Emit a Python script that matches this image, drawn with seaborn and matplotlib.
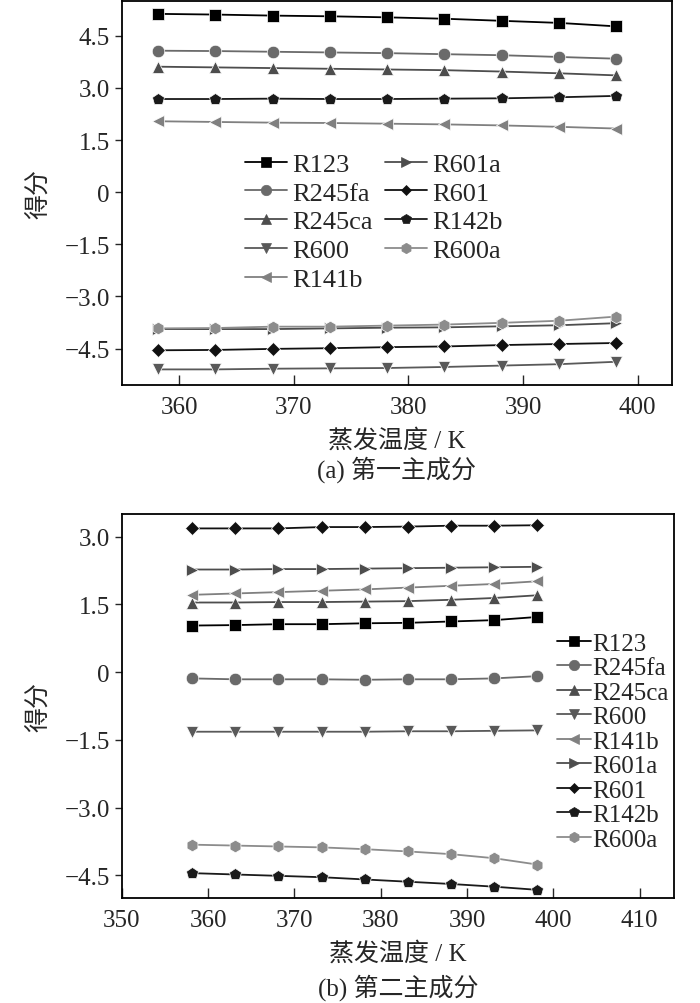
import numpy as np
import pandas as pd
import seaborn as sns
import matplotlib.pyplot as plt
from matplotlib.lines import Line2D

sns.set_style('ticks')
plt.rcParams['font.family'] = ['Liberation Serif', 'Noto Sans CJK SC']
plt.rcParams['axes.unicode_minus'] = True

# 蒸发温度 / K
temp = [358.15, 363.15, 368.15, 373.15, 378.15, 383.15, 388.15, 393.15, 398.15]
names = ['R123', 'R245fa', 'R245ca', 'R600', 'R141b', 'R601a', 'R601', 'R142b', 'R600a']

# (a) 第一主成分
pc1_R123 = [5.13, 5.11, 5.08, 5.06, 5.03, 4.99, 4.93, 4.87, 4.77]
pc1_R245fa = [4.07, 4.06, 4.04, 4.02, 4.00, 3.97, 3.94, 3.89, 3.84]
pc1_R245ca = [3.61, 3.59, 3.57, 3.55, 3.53, 3.51, 3.47, 3.42, 3.36]
pc1_R600 = [-5.10, -5.10, -5.08, -5.07, -5.06, -5.03, -4.99, -4.95, -4.88]
pc1_R141b = [2.04, 2.02, 2.00, 1.99, 1.97, 1.95, 1.92, 1.88, 1.83]
pc1_R601a = [-3.94, -3.94, -3.94, -3.92, -3.90, -3.89, -3.86, -3.83, -3.77]
pc1_R601 = [-4.55, -4.54, -4.51, -4.49, -4.46, -4.44, -4.40, -4.37, -4.34]
pc1_R142b = [2.68, 2.68, 2.69, 2.68, 2.68, 2.69, 2.70, 2.73, 2.77]
pc1_R600a = [-3.92, -3.91, -3.87, -3.87, -3.84, -3.81, -3.76, -3.70, -3.58]

# (b) 第二主成分
pc2_R123 = [1.03, 1.04, 1.06, 1.06, 1.08, 1.09, 1.12, 1.15, 1.22]
pc2_R245fa = [-0.14, -0.16, -0.16, -0.16, -0.17, -0.16, -0.16, -0.14, -0.09]
pc2_R245ca = [1.54, 1.54, 1.55, 1.55, 1.56, 1.57, 1.60, 1.64, 1.70]
pc2_R600 = [-1.32, -1.32, -1.32, -1.32, -1.32, -1.31, -1.31, -1.30, -1.29]
pc2_R141b = [1.71, 1.74, 1.77, 1.80, 1.83, 1.87, 1.91, 1.95, 2.01]
pc2_R601a = [2.27, 2.27, 2.28, 2.28, 2.29, 2.30, 2.31, 2.32, 2.33]
pc2_R601 = [3.18, 3.18, 3.18, 3.21, 3.21, 3.22, 3.24, 3.24, 3.25]
pc2_R142b = [-4.45, -4.48, -4.51, -4.54, -4.59, -4.64, -4.69, -4.75, -4.82]
pc2_R600a = [-3.82, -3.84, -3.86, -3.88, -3.92, -3.97, -4.03, -4.12, -4.26]

yticks = [-4.5, -3.0, -1.5, 0, 1.5, 3.0, 4.5]
ytick_labels = ['\u22124.5', '\u22123.0', '\u22121.5', '0', '1.5', '3.0', '4.5']
xticks_a = [360, 370, 380, 390, 400]
xticks_b = [350, 360, 370, 380, 390, 400, 410]

pc1 = [pc1_R123, pc1_R245fa, pc1_R245ca, pc1_R600, pc1_R141b, pc1_R601a, pc1_R601, pc1_R142b, pc1_R600a]
pc2 = [pc2_R123, pc2_R245fa, pc2_R245ca, pc2_R600, pc2_R141b, pc2_R601a, pc2_R601, pc2_R142b, pc2_R600a]

farben = {'R123': '#000000', 'R245fa': '#6a6a6a', 'R245ca': '#4d4d4d', 'R600': '#595959',
          'R141b': '#808080', 'R601a': '#4d4d4d', 'R601': '#111111', 'R142b': '#1a1a1a',
          'R600a': '#8c8c8c'}
marker = {'R123': 's', 'R245fa': 'o', 'R245ca': '^', 'R600': 'v', 'R141b': '<',
          'R601a': '>', 'R601': 'D', 'R142b': 'p', 'R600a': 'h'}
# etwas kleinere Marker fuer Quadrat/Raute
msize = {'R123': 8, 'R245fa': 9, 'R245ca': 9, 'R600': 9, 'R141b': 9,
         'R601a': 9, 'R601': 7, 'R142b': 9, 'R600a': 9}

FS = 18


def baue_df(werte):
    rows = []
    for n, v in zip(names, werte):
        for t, y in zip(temp, v):
            rows.append({'T': t, 'score': y, 'name': n})
    return pd.DataFrame(rows)


def zeichne(ax, df):
    for n in names:
        sub = df[df['name'] == n]
        sns.lineplot(data=sub, x='T', y='score', color=farben[n], marker=marker[n],
                     markersize=msize[n], linewidth=1.3, markeredgewidth=0.5, ax=ax)
    ax.set_yticks(yticks)
    ax.set_yticklabels(ytick_labels)
    ax.tick_params(axis='y', direction='out', length=5, width=1, labelsize=FS)
    ax.tick_params(axis='x', direction='in', length=7, width=1, labelsize=FS, pad=8)
    for s in ax.spines.values():
        s.set_linewidth(1.3)
        s.set_color('black')
    ax.set_xlabel('蒸发温度 / K', fontsize=FS, labelpad=7)
    ax.set_ylabel('得分', fontsize=FS, labelpad=10)
    handles = [Line2D([], [], color=farben[n], marker=marker[n], markersize=msize[n] - 1.5,
                      linewidth=1.3, markeredgewidth=0.5) for n in names]
    return handles


fig = plt.figure(figsize=(7, 10.04), dpi=100)
ax1 = fig.add_axes([0.174, 0.6155, 0.786, 0.3825])
ax2 = fig.add_axes([0.174, 0.1046, 0.789, 0.3825])

h = zeichne(ax1, baue_df(pc1))
ax1.set_xlim(355, 403)
ax1.set_ylim(-5.55, 5.5)
ax1.set_xticks(xticks_a)
ax1.legend(h, names, ncol=2, loc='upper left', bbox_to_anchor=(0.2, 0.64), frameon=False,
           fontsize=FS + 1, handlelength=1.6, handletextpad=0.2, columnspacing=0.45,
           labelspacing=0.2, borderpad=0)

h = zeichne(ax2, baue_df(pc2))
ax2.set_xlim(350, 414)
ax2.set_ylim(-5.0, 3.5)
ax2.set_xticks(xticks_b)
ax2.legend(h, names, ncol=1, loc='upper left', bbox_to_anchor=(0.765, 0.725), frameon=False,
           fontsize=FS, handlelength=1.35, handletextpad=0.05, labelspacing=0.08, borderpad=0)

fig.text(0.5 * (0.174 + 0.96), 1 - 470 / 1004, '(a) 第一主成分', ha='center', va='center', fontsize=FS)
fig.text(0.5 * (0.174 + 0.963), 1 - 988 / 1004, '(b) 第二主成分', ha='center', va='center', fontsize=FS)

fig.savefig('out.png', dpi=100)
